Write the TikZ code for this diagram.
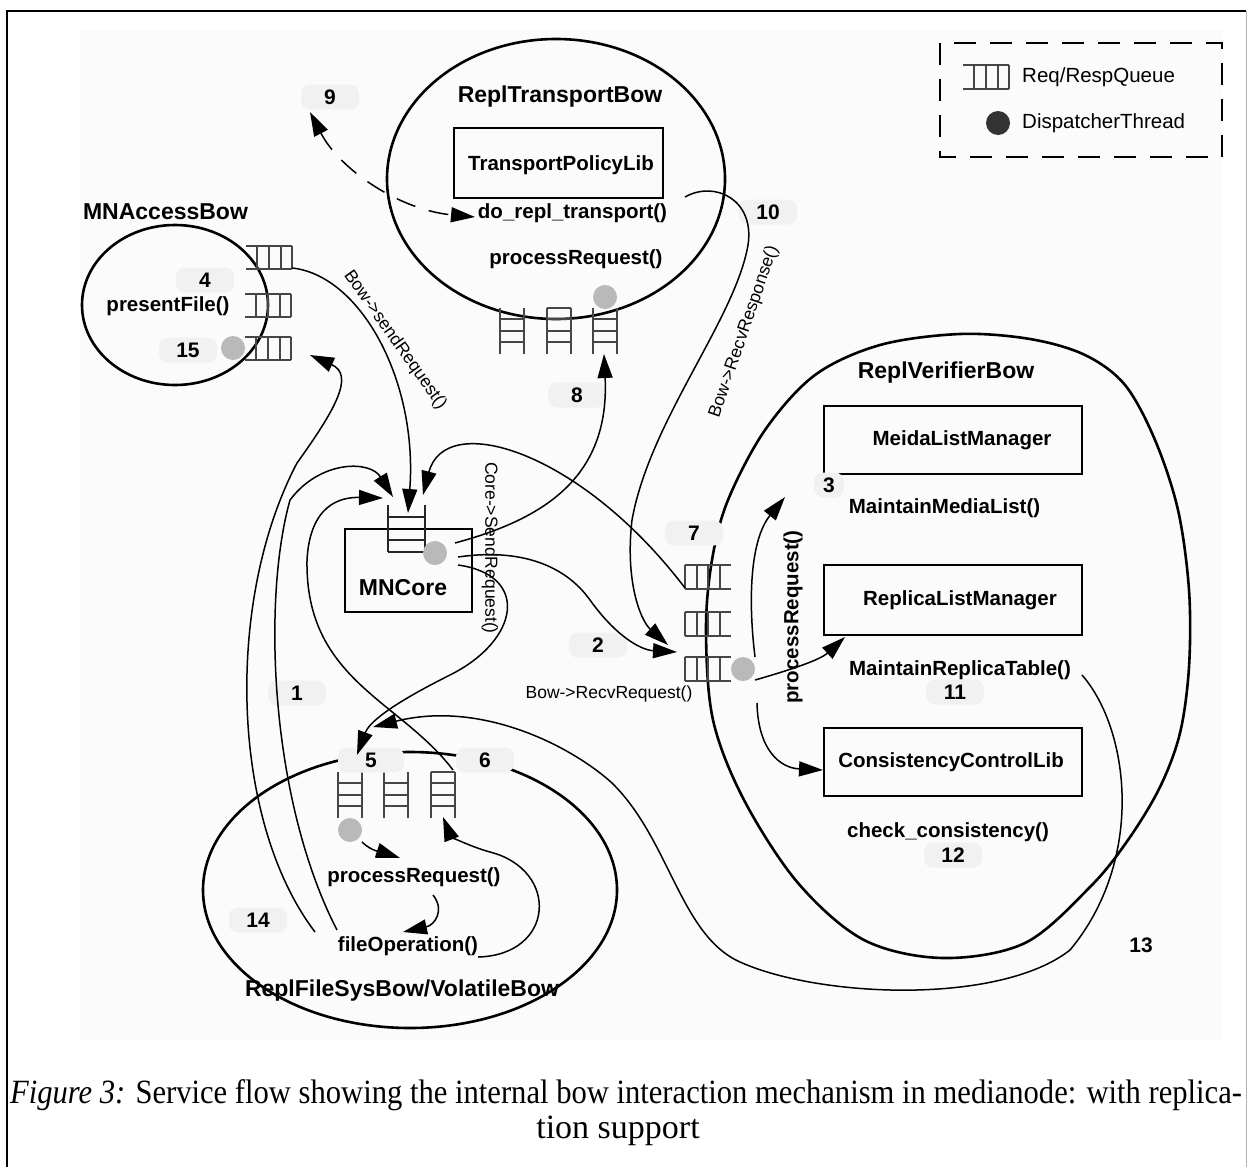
\documentclass[tikz,border=0pt]{standalone}
\usepackage{fontspec}
\usepackage{graphicx}
\setmainfont{Liberation Sans}
\newfontfamily\capserif{Liberation Serif}
\usetikzlibrary{arrows.meta}
\newcommand{\hqL}[3][23]{\draw[qline] (#2,#3) -- ++(46,0) (#2,#3+#1) -- ++(46,0) (#2+11,#3) -- ++(0,#1) (#2+23,#3) -- ++(0,#1) (#2+35,#3) -- ++(0,#1) (#2+46,#3) -- ++(0,#1);}
\newcommand{\hqR}[2]{\draw[qline] (#1,#2) -- ++(46,0) (#1,#2+24) -- ++(46,0) (#1,#2) -- ++(0,24) (#1+12,#2) -- ++(0,24) (#1+23,#2) -- ++(0,24) (#1+35,#2) -- ++(0,24);}
\newcommand{\vqu}[2]{\draw[qline] (#1,#2) -- ++(0,46) (#1+24,#2) -- ++(0,46) (#1,#2+11) -- ++(24,0) (#1,#2+23) -- ++(24,0) (#1,#2+34) -- ++(24,0);}
\begin{document}
\begin{tikzpicture}[x=1pt,y=-1pt,
  every node/.style={inner sep=0pt},
  lbl/.style={font=\bfseries\fontsize{20.5}{24}\selectfont},
  ttl/.style={font=\bfseries\fontsize{23}{26}\selectfont},
  rl/.style={font=\fontsize{17.5}{20}\selectfont},
  leg/.style={font=\fontsize{20.5}{24}\selectfont},
  num/.style={font=\bfseries\fontsize{21}{24}\selectfont, fill=gray!11, rounded corners=9pt, minimum width=58pt, minimum height=25pt},
  numplain/.style={font=\bfseries\fontsize{21}{24}\selectfont},
  bow/.style={line width=2.6pt},
  boxed/.style={draw, line width=1.4pt},
  conn/.style={line width=1.5pt, -{Triangle[length=24pt,width=15pt]}},
  qline/.style={line width=1.1pt, gray!55!black},
  thr/.style={fill=gray!55},
]
\useasboundingbox (0,0) rectangle (1249,1167);
\fill[gray!3] (80,30) rectangle (1223,1040);
\draw[line width=2.5pt] (7,1167) -- (7,11) -- (1246,11);
\draw[line width=1pt, gray!60] (1246,11) -- (1246,1167);

% legend
\draw[line width=1.5pt, dash pattern=on 22pt off 14pt] (940,43) rectangle (1222,157);
\hqL[24]{963}{65}
\node[leg, anchor=west] (lq) at (1022,77) {Req/RespQueue};
\fill[black!80] (998,123) circle[radius=12];
\node[leg, anchor=west] (ld) at (1022,123) {DispatcherThread};

% bows
\draw[bow] (175,305) ellipse [x radius=93, y radius=80];
\draw[bow] (556,179) ellipse [x radius=169, y radius=140];
\draw[bow] plot[smooth cycle, tension=0.55] coordinates {(960,334) (1030,339) (1085,355) (1125,385) (1155,440) (1178,510) (1189,590) (1189,667) (1180,733) (1160,787) (1128,840) (1090,887) (1025,943) (943,958) (864,940) (798,883) (744,800) (713,720) (706,630) (712,560) (728,500) (765,430) (815,375) (880,345)};
\draw[bow] (410,890) ellipse [x radius=207, y radius=138];

% boxes
\node[boxed, minimum width=209pt, minimum height=70pt] (tpl) at (558.5,163) {};
\node[lbl] (tplt) at (561,165) {TransportPolicyLib};
\node[boxed, minimum width=258pt, minimum height=68pt] (mlmb) at (953,440) {};
\node[lbl] (mlmt) at (962,440) {MeidaListManager};
\node[boxed, minimum width=258pt, minimum height=70pt] (rlmb) at (953,600) {};
\node[lbl] (rlmt) at (960,600) {ReplicaListManager};
\node[boxed, minimum width=258pt, minimum height=68pt] (cclb) at (953,762) {};
\node[lbl] (cclt) at (951,762) {ConsistencyControlLib};
\node[draw, line width=2.6pt, minimum width=127pt, minimum height=83pt] (core) at (408.5,570.5) {};
\node[font=\bfseries\fontsize{23}{26}\selectfont] (coret) at (403,588) {MNCore};

% queues
\hqL{246}{246}
\hqL{245}{294}
\hqL{245}{337}
\fill[thr] (233,348) circle[radius=12];
\vqu{500}{308}
\vqu{547}{308}
\draw[qline] (547,308) -- ++(24,0);
\vqu{593}{308}
\fill[thr] (605,297) circle[radius=12];
\vqu{338}{772}
\vqu{384}{772}
\vqu{431}{772}
\draw[qline] (431,772) -- ++(24,0);
\fill[thr] (350,830) circle[radius=12];
\hqR{685}{565}
\hqR{685}{612}
\hqR{685}{657}
\fill[thr] (743,669) circle[radius=12];
\draw[line width=1.3pt, gray!30!black] (388,505) -- (388,552) (425,505) -- (425,552) (388,517) -- (425,517) (388,540) -- (425,540) (388,552) -- (425,552);
\fill[thr] (435,553) circle[radius=12];

% numbers
\node[num] (n9) at (330,97) {9};
\node[num] (n10) at (768,212) {10};
\node[num] (n4) at (205,280) {4};
\node[num] (n15) at (188,350) {15};
\node[num] (n8) at (577,395) {8};
\node[num] (n7) at (694,533) {7};
\node[num, minimum width=30pt] (n3) at (829,485) {3};
\node[num] (n2) at (598,645) {2};
\node[num] (n1) at (297,693) {1};
\node[num] (n11) at (955,692) {11};
\node[num, minimum width=66pt] (n5) at (371,760) {5};
\node[num] (n6) at (485,760) {6};
\node[num] (n14) at (258,920) {14};
\node[num] (n12) at (953,855) {12};
\node[numplain] (n13) at (1141,945) {13};

% connector end points
\coordinate (aq1o) at (292,268);
\coordinate (aq3o) at (310,355);
\coordinate (coreTop) at (408,513);
\coordinate (coreL1) at (393,497);
\coordinate (coreL2) at (383,498);
\coordinate (coreR) at (423,495);
\coordinate (coreO1) at (455,543);
\coordinate (coreO2) at (458,557);
\coordinate (coreO3) at (458,565);
\coordinate (fo14) at (315,932);
\coordinate (fo1) at (337,930);
\coordinate (fq3t) at (453,770);
\coordinate (fq1t) at (357,755);
\coordinate (f5r) at (373,727);
\coordinate (q7a) at (685,588);
\coordinate (q7b) at (668,645);
\coordinate (q7c) at (677,652);
\coordinate (tqC) at (604,354);
\coordinate (mrt) at (1082,675);
\coordinate (drt) at (685,197);
\coordinate (drl) at (475,217);
\coordinate (n9a) at (310,112);
\coordinate (q7d1) at (755,657);
\coordinate (q7d2) at (755,680);
\coordinate (q7d3) at (757,703);
\coordinate (mlm) at (785,497);
\coordinate (rlm) at (845,637);
\coordinate (ccl) at (823,770);
\coordinate (fdot) at (362,842);
\coordinate (fpr) at (400,858);
\coordinate (fpr2) at (433,895);
\coordinate (ffo) at (403,932);
\coordinate (ffo2) at (478,957);
\coordinate (fq3b) at (443,817);

% connectors
\draw[conn] (aq1o) .. controls (360,275) and (418,380) .. (coreTop);
\draw[conn] (fo14) .. controls (230,820) and (225,600) .. (297,463) .. controls (335,410) and (355,375) .. (aq3o);
\draw[conn] (fo1) .. controls (270,800) and (262,600) .. (290,500) .. controls (320,460) and (370,460) .. (coreL1);
\draw[conn] (fq3t) .. controls (400,700) and (305,680) .. (307,560) .. controls (310,505) and (340,497) .. (coreL2);
\draw[conn] (q7a) .. controls (580,450) and (445,410) .. (coreR);
\draw[conn] (coreO1) .. controls (540,520) and (610,480) .. (tqC);
\draw[conn] (coreO2) .. controls (520,548) and (565,565) .. (590,600) .. controls (615,635) and (640,650) .. (q7c);
\draw[conn] (coreO3) .. controls (530,575) and (520,640) .. (450,675) .. controls (400,700) and (370,720) .. (fq1t);
\draw[conn] (mrt) .. controls (1130,730) and (1145,860) .. (1070,950) .. controls (1000,1005) and (820,998) .. (740,962) .. controls (680,935) and (670,840) .. (612,783) .. controls (570,745) and (480,700) .. (f5r);
\draw[conn] (drt) .. controls (715,180) and (755,200) .. (748,245) .. controls (735,320) and (650,420) .. (632,520) .. controls (625,580) and (640,620) .. (q7b);
\draw[line width=1.5pt, dash pattern=on 20pt off 14pt, {Triangle[length=24pt,width=15pt]}-{Triangle[length=24pt,width=15pt]}] (n9a) .. controls (340,170) and (400,210) .. (drl);
\draw[conn] (q7d1) .. controls (748,600) and (750,540) .. (mlm);
\draw[conn] (q7d2) .. controls (790,670) and (820,660) .. (rlm);
\draw[conn] (q7d3) .. controls (758,750) and (780,768) .. (ccl);
\draw[conn] (fdot) .. controls (372,852) and (385,853) .. (fpr);
\draw[conn] (fpr2) .. controls (445,910) and (435,925) .. (ffo);
\draw[conn] (ffo2) .. controls (555,955) and (560,870) .. (490,852) .. controls (465,845) and (450,835) .. (fq3b);

% labels
\node[ttl] (t1) at (165.5,212) {MNAccessBow};
\node[lbl] (pf) at (168,306) {presentFile()};
\node[ttl] (t2) at (560,97) {ReplTransportBow};
\node[lbl] (drtx) at (572.5,213) {do\_repl\_transport()};
\node[lbl] (tpr) at (576,259) {processRequest()};
\node[ttl] (t3) at (946,373) {ReplVerifierBow};
\node[lbl] (mml) at (944.5,508) {MaintainMediaList()};
\node[lbl] (mrtx) at (960,670) {MaintainReplicaTable()};
\node[lbl] (ccx) at (948,832) {check\_consistency()};
\node[lbl, rotate=90] (vpr) at (793,617) {processRequest()};
\node[lbl] (fprx) at (414,877) {processRequest()};
\node[lbl] (fopx) at (408,946) {fileOperation()};
\node[ttl] (t4) at (402,991) {ReplFileSysBow/VolatileBow};
\node[rl, rotate=-54.6] (bsr) at (395,340) {Bow->sendRequest()};
\node[rl, rotate=-90] (csr) at (490,548) {Core->SendRequest()};
\node[rl, rotate=71] (brr) at (744,332) {Bow->RecvResponse()};
\node[rl] (brq) at (609,694) {Bow->RecvRequest()};

% caption
\node[font=\capserif\fontsize{34}{36}\selectfont] (cap1) at (626,1095) {\scalebox{0.9}[1]{\textit{Figure 3:} Service flow showing the internal bow interaction mechanism in medianode: with replica-}};
\node[font=\capserif\fontsize{34}{36}\selectfont] (cap2) at (618,1131) {\scalebox{1.0}[1]{tion support}};
\end{tikzpicture}
\end{document}
